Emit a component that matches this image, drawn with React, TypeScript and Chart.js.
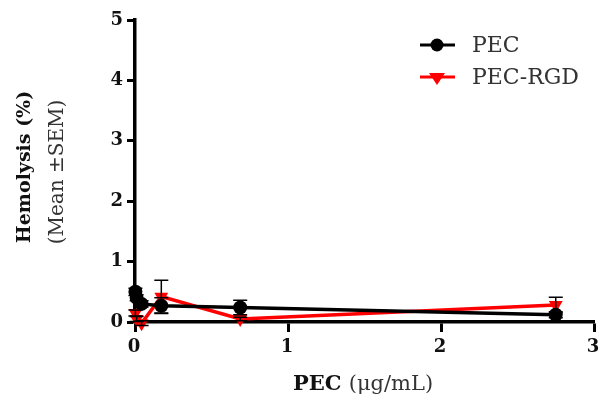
import React, { useEffect, useRef } from "react";
import { Chart, registerables } from "chart.js";

Chart.register(...registerables);

const concentrations = [0.0027, 0.0107, 0.043, 0.172, 0.6875, 2.75];
const pecValues = [0.5, 0.4, 0.3, 0.27, 0.24, 0.12];
const pecErrors = [0.06, 0.05, 0.05, 0.13, 0.12, 0.05];
const rgdValues = [0.15, 0.05, -0.02, 0.42, 0.05, 0.28];
const rgdErrors = [0.05, 0.04, 0.04, 0.27, 0.03, 0.13];
const seriesNames = ["PEC", "PEC-RGD"];
const xTicks = [0, 1, 2, 3];
const yTicks = [0, 1, 2, 3, 4, 5];

const FONT = "'DejaVu Serif', serif";

const errorBarPlugin = {
  id: "errorBars",
  afterDatasetsDraw(chart: any) {
    const ctx = chart.ctx;
    const xs = chart.scales.x;
    const ys = chart.scales.y;
    const sets = [
      { vals: rgdValues, errs: rgdErrors, color: "#000" },
      { vals: pecValues, errs: pecErrors, color: "#000" },
    ];
    ctx.save();
    sets.forEach((s) => {
      concentrations.forEach((c, i) => {
        const px = xs.getPixelForValue(c);
        const yTop = ys.getPixelForValue(s.vals[i] + s.errs[i]);
        const yBot = ys.getPixelForValue(s.vals[i] - s.errs[i]);
        ctx.strokeStyle = s.color;
        ctx.lineWidth = 1.5;
        ctx.beginPath();
        ctx.moveTo(px, yTop);
        ctx.lineTo(px, yBot);
        ctx.moveTo(px - 7, yTop);
        ctx.lineTo(px + 7, yTop);
        ctx.moveTo(px - 7, yBot);
        ctx.lineTo(px + 7, yBot);
        ctx.stroke();
      });
    });
    ctx.restore();
  },
};

const decorPlugin = {
  id: "decor",
  afterDraw(chart: any) {
    const ctx = chart.ctx;
    const xs = chart.scales.x;
    ctx.save();
    // x tick labels
    ctx.fillStyle = "#111";
    ctx.font = `bold 18px ${FONT}`;
    ctx.textAlign = "center";
    ctx.textBaseline = "middle";
    xTicks.forEach((v) => {
      ctx.fillText(String(v), xs.getPixelForValue(v) - 1, 347);
    });

    // y title
    ctx.save();
    ctx.translate(25, 167);
    ctx.rotate(-Math.PI / 2);
    ctx.textAlign = "center";
    ctx.textBaseline = "middle";
    ctx.fillStyle = "#111";
    ctx.font = `bold 19px ${FONT}`;
    ctx.fillText("Hemolysis (%)", 0, 0);
    ctx.restore();
    ctx.save();
    ctx.translate(58, 172);
    ctx.rotate(-Math.PI / 2);
    ctx.textAlign = "center";
    ctx.textBaseline = "middle";
    ctx.fillStyle = "#333";
    ctx.font = `20px ${FONT}`;
    ctx.fillText("(Mean \u00b1SEM)", 0, 0);
    ctx.restore();

    // x title
    ctx.textBaseline = "alphabetic";
    ctx.fillStyle = "#111";
    ctx.font = `bold 21px ${FONT}`;
    const p1 = "PEC ";
    const w1 = ctx.measureText(p1).width;
    ctx.font = `21px ${FONT}`;
    const p2 = "(\u03bcg/mL)";
    const w2 = ctx.measureText(p2).width;
    const x0 = 363 - (w1 + w2) / 2;
    ctx.font = `bold 21px ${FONT}`;
    ctx.textAlign = "left";
    ctx.fillText(p1, x0, 390);
    ctx.font = `21px ${FONT}`;
    ctx.fillStyle = "#333";
    ctx.fillText(p2, x0 + w1, 390);

    // legend
    const items = [
      { y: 45, color: "#000", shape: "circle", label: seriesNames[0] },
      { y: 77, color: "#ff0000", shape: "tri", label: seriesNames[1] },
    ];
    items.forEach((it) => {
      ctx.strokeStyle = it.color;
      ctx.fillStyle = it.color;
      ctx.lineWidth = 3;
      ctx.beginPath();
      ctx.moveTo(420, it.y);
      ctx.lineTo(455, it.y);
      ctx.stroke();
      ctx.beginPath();
      if (it.shape === "circle") {
        ctx.arc(437, it.y, 6.5, 0, Math.PI * 2);
      } else {
        ctx.moveTo(429, it.y - 4);
        ctx.lineTo(445, it.y - 4);
        ctx.lineTo(437, it.y + 8);
        ctx.closePath();
      }
      ctx.fill();
      ctx.fillStyle = "#333";
      ctx.font = `22px ${FONT}`;
      ctx.textAlign = "left";
      ctx.textBaseline = "middle";
      ctx.fillText(it.label, 472, it.y + 1);
    });
    ctx.restore();
  },
};

export default function App() {
  const ref = useRef<HTMLCanvasElement | null>(null);
  useEffect(() => {
    document.body.style.margin = "0";
    const chart = new Chart(ref.current!, {
      type: "line",
      data: {
        datasets: [
          {
            label: seriesNames[0],
            data: concentrations.map((c, i) => ({ x: c, y: pecValues[i] })),
            borderColor: "#000",
            backgroundColor: "#000",
            borderWidth: 3.5,
            pointStyle: "circle",
            pointRadius: 7,
            pointBorderWidth: 0,
            tension: 0,
          },
          {
            label: seriesNames[1],
            data: concentrations.map((c, i) => ({ x: c, y: rgdValues[i] })),
            borderColor: "#ff0000",
            backgroundColor: "#ff0000",
            borderWidth: 3.5,
            pointStyle: "triangle",
            pointRotation: 180,
            pointRadius: 8,
            pointBorderWidth: 0,
            tension: 0,
          },
        ],
      },
      options: {
        animation: false,
        responsive: false,
        clip: false as any,
        layout: { autoPadding: false, padding: { top: 20, right: 5, left: 0, bottom: 0 } },
        plugins: { legend: { display: false }, tooltip: { enabled: false } },
        scales: {
          x: {
            type: "linear",
            min: 0,
            max: 3,
            afterFit: (s: any) => {
              s.height = 76;
            },
            afterBuildTicks: (s: any) => {
              s.ticks = xTicks.map((v) => ({ value: v }));
            },
            ticks: { display: false },
            grid: {
              drawOnChartArea: false,
              drawTicks: true,
              tickLength: 10,
              tickColor: "#000",
              tickWidth: 3,
            },
            border: { color: "#000", width: 3.5 },
          },
          y: {
            type: "linear",
            min: 0,
            max: 5,
            afterFit: (s: any) => {
              s.width = 135;
            },
            afterBuildTicks: (s: any) => {
              s.ticks = yTicks.map((v) => ({ value: v }));
            },
            ticks: {
              color: "#111",
              font: { family: FONT, size: 18, weight: "bold" },
              padding: 4,
            },
            grid: {
              drawOnChartArea: false,
              drawTicks: true,
              tickLength: 8,
              tickColor: "#000",
              tickWidth: 3,
            },
            border: { color: "#000", width: 3.5 },
          },
        },
      },
      plugins: [errorBarPlugin, decorPlugin],
    });
    return () => chart.destroy();
  }, []);
  return (
    <div style={{ position: "absolute", left: 0, top: 0, width: 599, height: 398 }}>
      <canvas ref={ref} width={599} height={398} style={{ width: 599, height: 398 }} />
    </div>
  );
}
